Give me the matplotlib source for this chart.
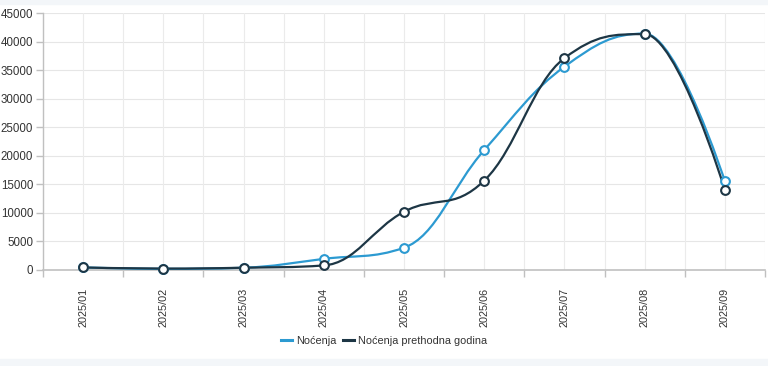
import numpy as np
import matplotlib
matplotlib.use("Agg")
import matplotlib.pyplot as plt
from matplotlib.path import Path
from matplotlib.patches import PathPatch, Rectangle
from matplotlib.lines import Line2D

plt.rcParams['font.family'] = ['Liberation Sans', 'DejaVu Sans']

months = ['2025/01', '2025/02', '2025/03', '2025/04', '2025/05',
          '2025/06', '2025/07', '2025/08', '2025/09']
nocenja = [450, 200, 400, 1950, 3900, 21000, 35600, 41400, 15550]
nocenja_prev = [450, 250, 400, 800, 10200, 15650, 37100, 41300, 14050]

c_cur = '#2c9ad1'
c_prev = '#1d3645'


def spline_path(xs, ys, smoothing=1.5):
    # highcharts-style spline, built as cubic bezier segments
    n = len(xs)
    denom = smoothing + 1
    lc = [None] * n
    rc = [None] * n
    for i in range(1, n - 1):
        x, y = xs[i], ys[i]
        lx, ly = xs[i - 1], ys[i - 1]
        nx, ny = xs[i + 1], ys[i + 1]
        lcx = (smoothing * x + lx) / denom
        lcy = (smoothing * y + ly) / denom
        rcx = (smoothing * x + nx) / denom
        rcy = (smoothing * y + ny) / denom
        if rcx != lcx:
            corr = (rcy - lcy) * (rcx - x) / (rcx - lcx) + y - rcy
            lcy += corr
            rcy += corr
        if lcy > ly and lcy > y:
            lcy = max(ly, y)
            rcy = 2 * y - lcy
        elif lcy < ly and lcy < y:
            lcy = min(ly, y)
            rcy = 2 * y - lcy
        if rcy > ny and rcy > y:
            rcy = max(ny, y)
            lcy = 2 * y - rcy
        elif rcy < ny and rcy < y:
            rcy = min(ny, y)
            lcy = 2 * y - rcy
        lc[i] = (lcx, lcy)
        rc[i] = (rcx, rcy)
    verts = [(xs[0], ys[0])]
    codes = [Path.MOVETO]
    for i in range(1, n):
        p1 = rc[i - 1] if rc[i - 1] else (xs[i - 1], ys[i - 1])
        p2 = lc[i] if lc[i] else (xs[i], ys[i])
        verts += [p1, p2, (xs[i], ys[i])]
        codes += [Path.CURVE4] * 3
    return Path(verts, codes)


fig = plt.figure(figsize=(7.68, 3.66), dpi=100)
fig.patches.append(Rectangle((0, 1 - 4 / 366), 1, 4 / 366, transform=fig.transFigure,
                             color='#f3f6f9', zorder=0))
fig.patches.append(Rectangle((0, 0), 1, 7 / 366, transform=fig.transFigure,
                             color='#f3f6f9', zorder=0))

ax = fig.add_axes([43 / 768, 1 - 270 / 366, 722 / 768, 257 / 366])
x = np.arange(len(months))

for vals, col, z in [(nocenja, c_cur, 3), (nocenja_prev, c_prev, 4)]:
    ax.add_patch(PathPatch(spline_path(list(x), vals), facecolor='none',
                           edgecolor=col, lw=1.6, zorder=z))
    ax.plot(x, vals, ls='none', marker='o', ms=6.3, mfc='white', mec=col,
            mew=1.5, zorder=z + 2, clip_on=False)

ax.set_xlim(-0.5, len(months) - 0.5)
ax.set_ylim(0, 45000)
ax.set_yticks(np.arange(0, 45001, 5000))
ax.set_xticks(x)
ax.set_xticklabels(months, rotation=90, fontsize=7.8, color='#333333')
ax.set_xticks(np.arange(-0.5, len(months), 1), minor=True)
ax.tick_params(axis='x', which='major', length=0, pad=13)
ax.tick_params(axis='x', which='minor', length=5, color='#c0c0c0', width=1)
ax.tick_params(axis='y', length=5, color='#c0c0c0', width=1,
               labelsize=8.3, labelcolor='#333333', pad=2)

for yv in np.arange(5000, 45001, 5000):
    ax.axhline(yv, color='#e6e6e6', lw=0.8, zorder=0)
for xv in np.arange(-0.5, len(months), 0.5):
    ax.axvline(xv, color='#ebebeb', lw=0.8, zorder=0)

for s in ['top', 'right']:
    ax.spines[s].set_visible(False)
ax.spines['left'].set_color('#c0c0c0')
ax.spines['bottom'].set_color('#c0c0c0')
ax.spines['left'].set_linewidth(1)
ax.spines['bottom'].set_linewidth(1.2)

handles = [Line2D([], [], color=c_cur, lw=2.2),
           Line2D([], [], color=c_prev, lw=2.2)]
fig.legend(handles, ['Noćenja', 'Noćenja prethodna godina'],
           loc='center', bbox_to_anchor=(0.5, 1 - 341 / 366), ncol=2,
           frameon=False, fontsize=7.8, handlelength=1.0, handletextpad=0.4,
           columnspacing=0.6, labelcolor='#333333')

fig.savefig('out.png', dpi=100, facecolor='white')
